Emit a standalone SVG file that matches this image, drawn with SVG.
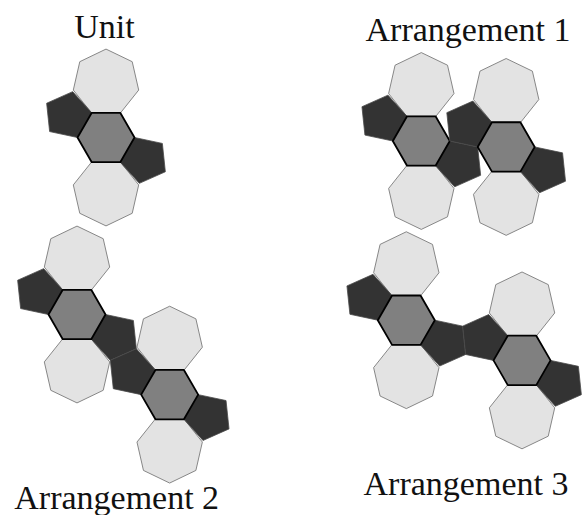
<svg xmlns="http://www.w3.org/2000/svg" width="582" height="515" viewBox="0 0 582 515">
<style>
.hep{fill:#e3e3e3;stroke:#7a7a7a;stroke-width:0.9;stroke-linejoin:round}
.pen{fill:#333333;stroke:#4a4a4a;stroke-width:0.8;stroke-linejoin:round}
.hex{fill:#808080;stroke:#000;stroke-width:1.8;stroke-linejoin:round}
.lbl{font-family:"Liberation Serif","Times New Roman",serif;font-size:34px;fill:#111;text-anchor:middle}
</style>
<defs>
<polygon id="hepT" class="hep" points="0,-88.42 26.21,-75.80 32.69,-47.43 14.55,-24.68 -14.55,-24.68 -32.69,-47.43 -26.21,-75.80"/>
<polygon id="hepB" class="hep" points="0,88.42 26.21,75.80 32.69,47.43 14.55,24.68 -14.55,24.68 -32.69,47.43 -26.21,75.80"/>
<polygon id="penL" class="pen" points="-59.35,-34.27 -33.32,-45.86 -14.25,-24.68 -28.5,0 -56.37,-5.93"/>
<polygon id="penR" class="pen" points="59.35,34.27 33.32,45.86 14.25,24.68 28.5,0 56.37,5.93"/>
<polygon id="hexC" class="hex" points="28.5,0 14.25,24.68 -14.25,24.68 -28.5,0 -14.25,-24.68 14.25,-24.68"/>
</defs>
<g id="connectors"></g>
<g id="unit" transform="translate(106,137.5)">
<use href="#hepT"/><use href="#hepB"/><use href="#penL"/><use href="#penR"/><use href="#hexC"/>
</g>
<g id="arr1-a" transform="translate(421.3,141)">
<use href="#hepT"/><use href="#hepB"/><use href="#penL"/><use href="#penR"/><use href="#hexC"/>
</g>
<g id="arr1-b" transform="translate(506.17,146.93)">
<use href="#hepT"/><use href="#hepB"/><use href="#penL"/><use href="#penR"/><use href="#hexC"/>
</g>
<g id="arr2-a" transform="translate(77,314.5)">
<use href="#hepT"/><use href="#hepB"/><use href="#penL"/><use href="#penR"/><use href="#hexC"/>
</g>
<g id="arr2-b" transform="translate(169.67,394.63)">
<use href="#hepT"/><use href="#hepB"/><use href="#penL"/><use href="#penR"/><use href="#hexC"/>
</g>
<g id="arr3-a" transform="translate(406.3,320.2)">
<use href="#hepT"/><use href="#hepB"/><use href="#penL"/><use href="#penR"/><use href="#hexC"/>
</g>
<g id="arr3-b" transform="translate(522.02,360.4)">
<use href="#hepT"/><use href="#hepB"/><use href="#penL"/><use href="#penR"/><use href="#hexC"/>
</g>
<g id="labels">
<text class="lbl" x="104.5" y="38">Unit</text>
<text class="lbl" x="468" y="41">Arrangement 1</text>
<text class="lbl" x="116.7" y="509">Arrangement 2</text>
<text class="lbl" x="466" y="495">Arrangement 3</text>
</g>
</svg>
